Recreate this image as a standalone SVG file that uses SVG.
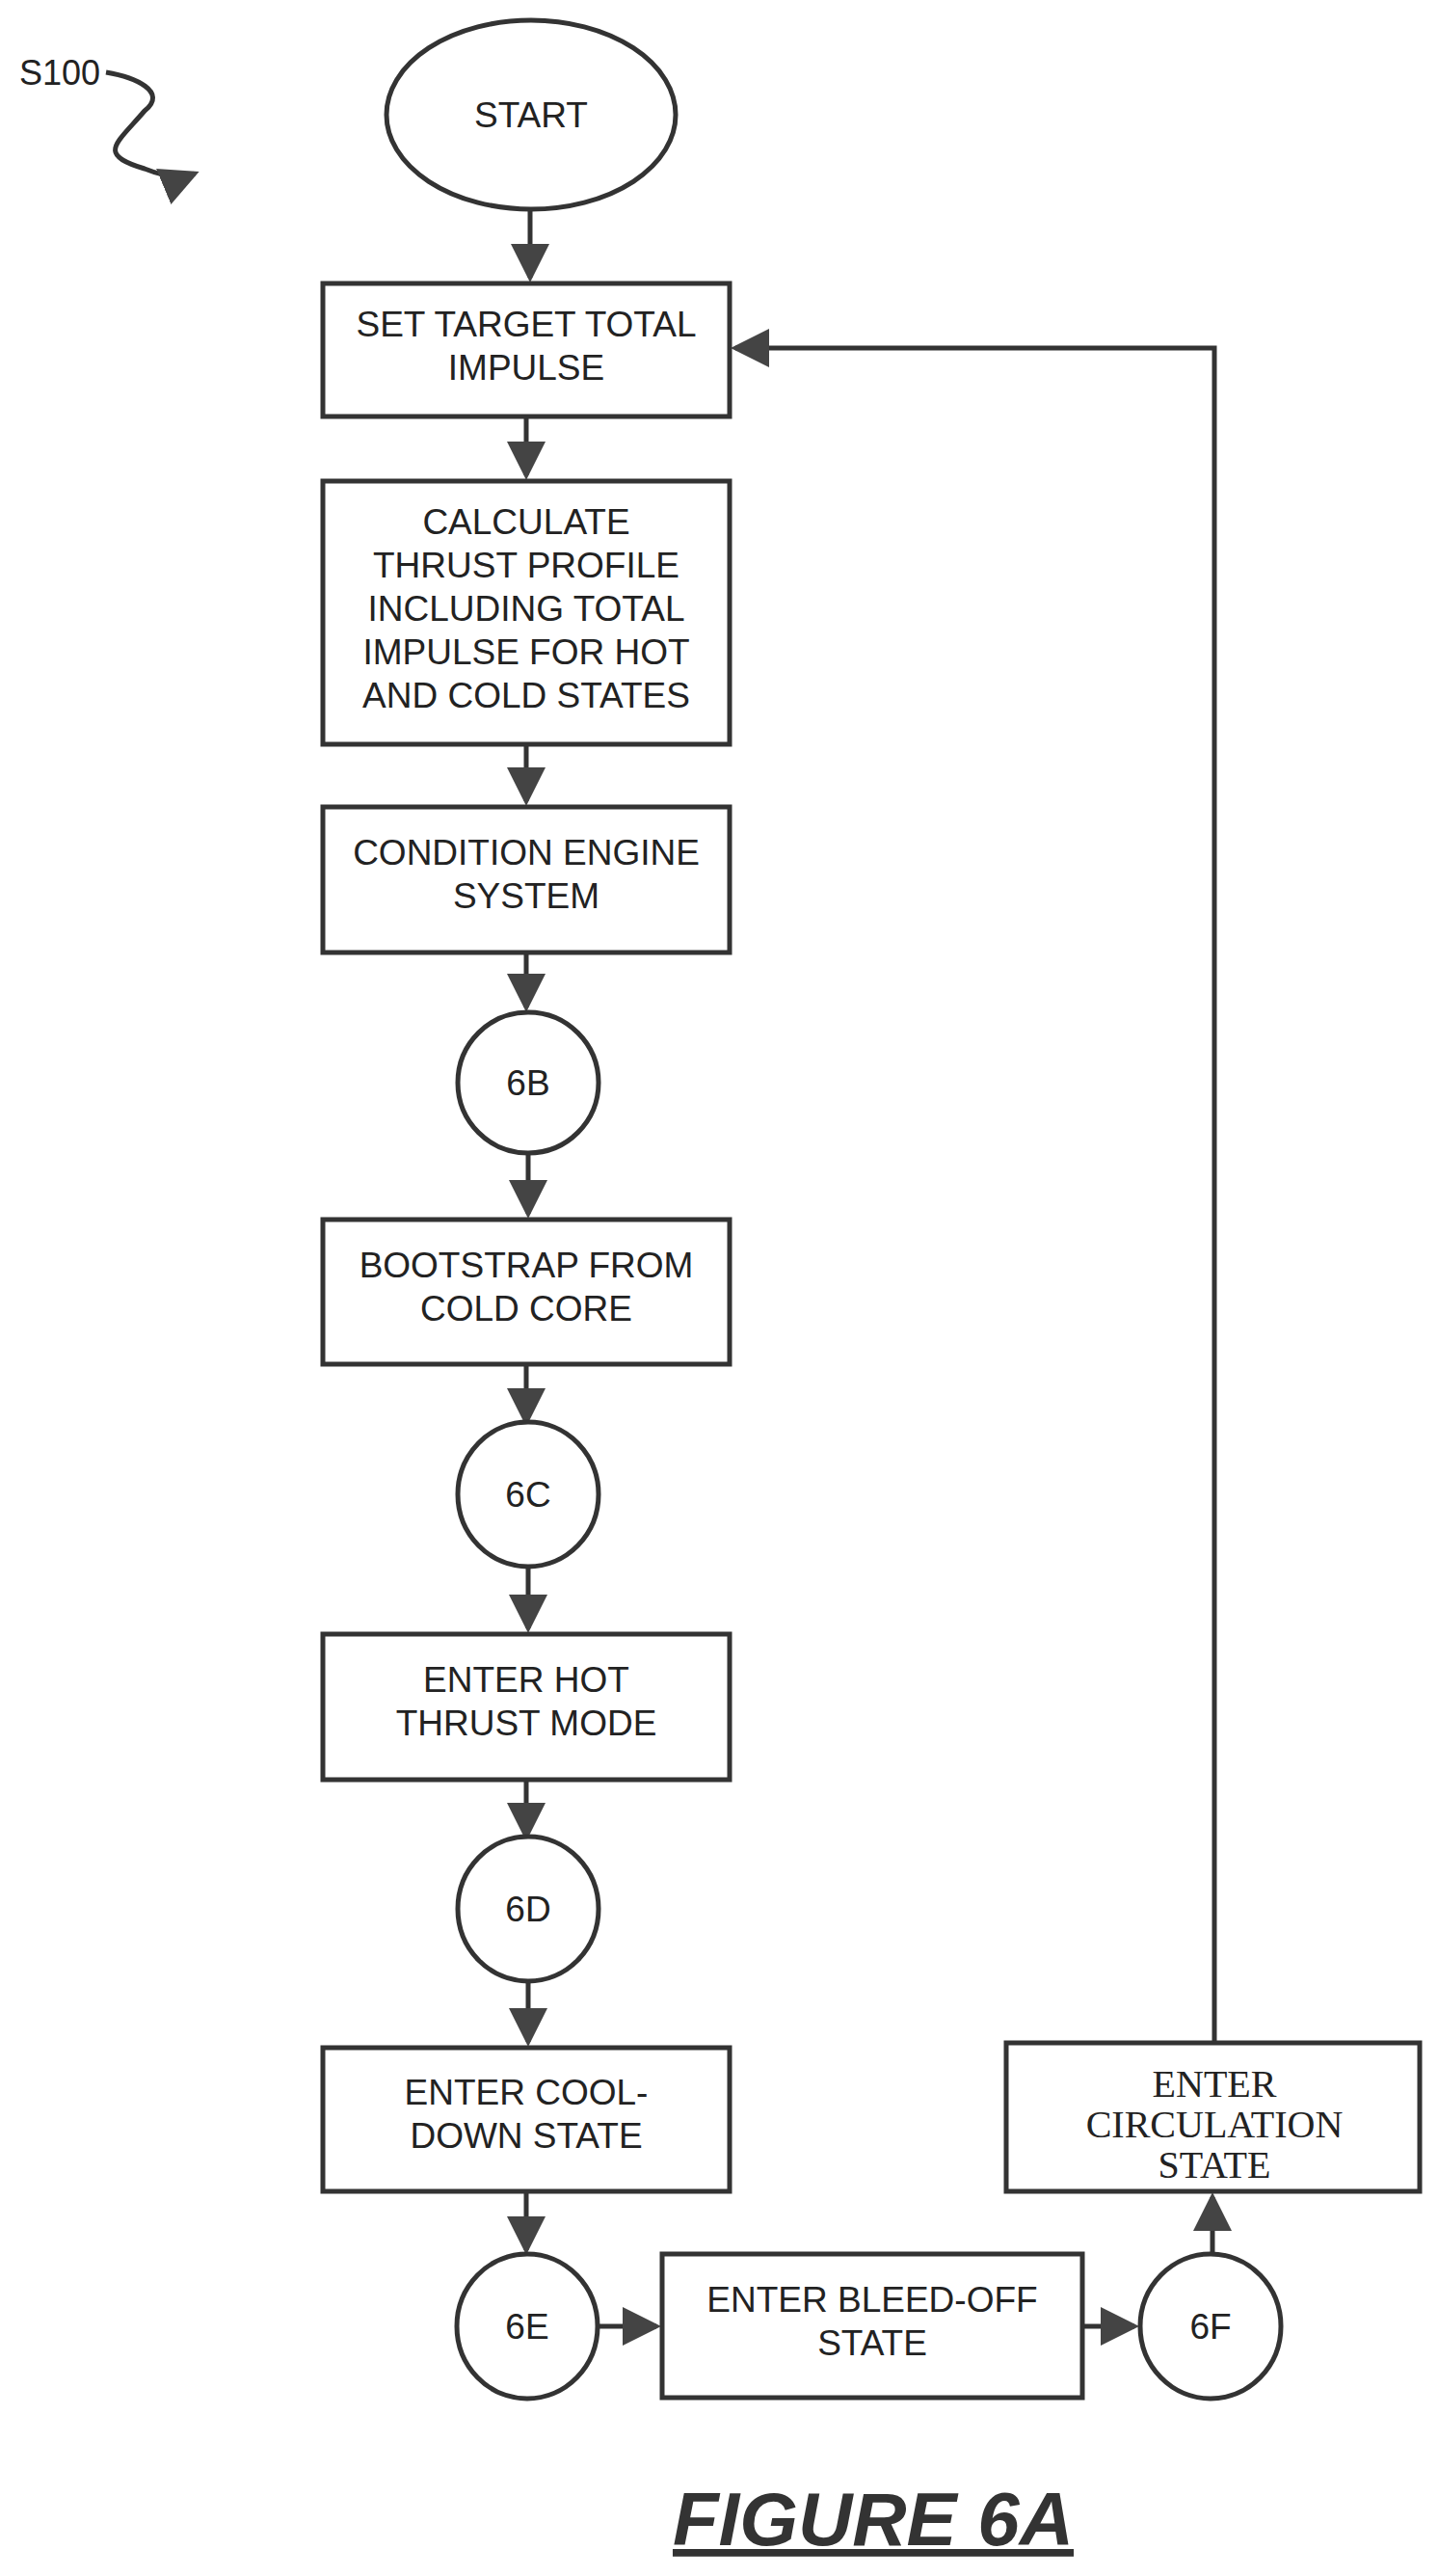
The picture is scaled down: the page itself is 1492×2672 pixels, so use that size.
<svg xmlns="http://www.w3.org/2000/svg" width="1492" height="2672" viewBox="0 0 1492 2672">
<style>
.n{fill:#fff;stroke:#333;stroke-width:5}
.t{font-family:"Liberation Sans",Arial,sans-serif;font-size:37px;fill:#222;text-anchor:middle}
.s{font-family:"Liberation Serif","Times New Roman",serif;font-size:40px;fill:#222;text-anchor:middle}
.c{fill:none;stroke:#333;stroke-width:5}
</style>
<defs>
<marker id="a" markerWidth="8" markerHeight="8" refX="7" refY="4" orient="auto" markerUnits="strokeWidth"><path d="M0,0L8,4L0,8z" fill="#444"/></marker>
</defs>
<rect width="1492" height="2672" fill="#fff"/>
<g id="connectors">
<path class="c" d="M550,217V288" marker-end="url(#a)"/>
<path class="c" d="M546,432V493" marker-end="url(#a)"/>
<path class="c" d="M546,772V831" marker-end="url(#a)"/>
<path class="c" d="M546,988V1045" marker-end="url(#a)"/>
<path class="c" d="M548,1196V1259" marker-end="url(#a)"/>
<path class="c" d="M546,1415V1475" marker-end="url(#a)"/>
<path class="c" d="M548,1625V1689" marker-end="url(#a)"/>
<path class="c" d="M546,1846V1905" marker-end="url(#a)"/>
<path class="c" d="M548,2055V2118" marker-end="url(#a)"/>
<path class="c" d="M546,2273V2334" marker-end="url(#a)"/>
<path class="c" d="M620,2413H681" marker-end="url(#a)"/>
<path class="c" d="M1123,2413H1177" marker-end="url(#a)"/>
<path class="c" d="M1258,2340V2279" marker-end="url(#a)"/>
<path class="c" d="M1260,2119V361H763" marker-end="url(#a)"/>
<path class="c" d="M110,75C140,80 175,95 150,115C120,150 100,160 150,175C175,185 190,185 202,180" stroke-width="3" marker-end="url(#a)"/>
</g>
<text x="20" y="88" font-family="Liberation Sans,Arial,sans-serif" font-size="36" fill="#222">S100</text>
<g id="start"><ellipse class="n" cx="551" cy="119" rx="150" ry="98"/><text class="t" x="551" y="132">START</text></g>
<g id="set"><rect class="n" x="335" y="294" width="422" height="138"/><text class="t" x="546" y="349">SET TARGET TOTAL</text><text class="t" x="546" y="394">IMPULSE</text></g>
<g id="calc"><rect class="n" x="335" y="499" width="422" height="273"/><text class="t" x="546" y="554">CALCULATE</text><text class="t" x="546" y="599">THRUST PROFILE</text><text class="t" x="546" y="644">INCLUDING TOTAL</text><text class="t" x="546" y="689">IMPULSE FOR HOT</text><text class="t" x="546" y="734">AND COLD STATES</text></g>
<g id="cond"><rect class="n" x="335" y="837" width="422" height="151"/><text class="t" x="546" y="897">CONDITION ENGINE</text><text class="t" x="546" y="942">SYSTEM</text></g>
<g id="c6b"><ellipse class="n" cx="548" cy="1123" rx="73" ry="73"/><text class="t" x="548" y="1136">6B</text></g>
<g id="boot"><rect class="n" x="335" y="1265" width="422" height="150"/><text class="t" x="546" y="1325">BOOTSTRAP FROM</text><text class="t" x="546" y="1370">COLD CORE</text></g>
<g id="c6c"><ellipse class="n" cx="548" cy="1550" rx="73" ry="75"/><text class="t" x="548" y="1563">6C</text></g>
<g id="hot"><rect class="n" x="335" y="1695" width="422" height="151"/><text class="t" x="546" y="1755">ENTER HOT</text><text class="t" x="546" y="1800">THRUST MODE</text></g>
<g id="c6d"><ellipse class="n" cx="548" cy="1980" rx="73" ry="75"/><text class="t" x="548" y="1993">6D</text></g>
<g id="cool"><rect class="n" x="335" y="2124" width="422" height="149"/><text class="t" x="546" y="2183">ENTER COOL-</text><text class="t" x="546" y="2228">DOWN STATE</text></g>
<g id="c6e"><ellipse class="n" cx="547" cy="2413" rx="73" ry="75"/><text class="t" x="547" y="2426">6E</text></g>
<g id="bleed"><rect class="n" x="687" y="2338" width="436" height="149"/><text class="t" x="905" y="2398">ENTER BLEED-OFF</text><text class="t" x="905" y="2443">STATE</text></g>
<g id="c6f"><ellipse class="n" cx="1256" cy="2413" rx="73" ry="75"/><text class="t" x="1256" y="2426">6F</text></g>
<g id="circ"><rect class="n" x="1044" y="2119" width="429" height="154"/><text class="s" x="1260" y="2175">ENTER</text><text class="s" x="1260" y="2217">CIRCULATION</text><text class="s" x="1260" y="2259">STATE</text></g>
<text x="906" y="2640" font-family="Liberation Sans,Arial,sans-serif" font-size="78" font-weight="bold" font-style="italic" fill="#333" text-anchor="middle" text-decoration="underline">FIGURE 6A</text>
</svg>
